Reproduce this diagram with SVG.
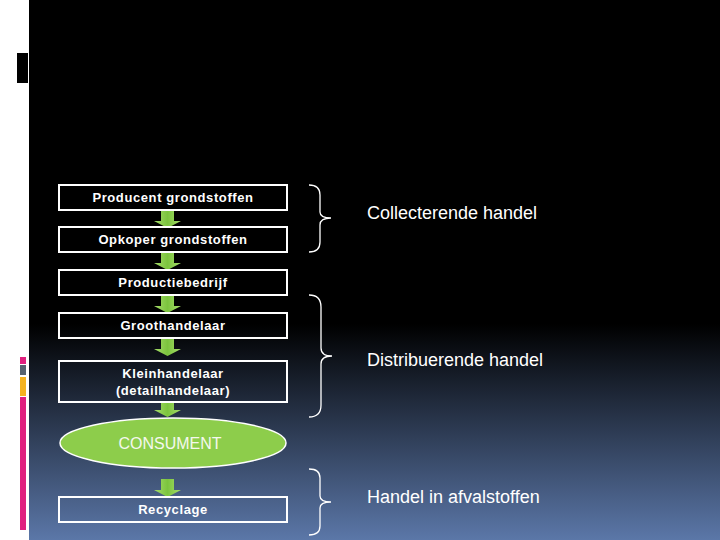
<svg xmlns="http://www.w3.org/2000/svg" width="720" height="540" viewBox="0 0 720 540">
<defs>
<linearGradient id="bg" x1="0" y1="0" x2="0" y2="540" gradientUnits="userSpaceOnUse">
<stop offset="0" stop-color="#000"/>
<stop offset="0.6" stop-color="#000"/>
<stop offset="1" stop-color="#5b77a8"/>
</linearGradient>
<linearGradient id="ag" x1="0" y1="0" x2="1" y2="0">
<stop offset="0" stop-color="#a6dd6a"/>
<stop offset="0.5" stop-color="#7cc43e"/>
<stop offset="1" stop-color="#a6dd6a"/>
</linearGradient>
<style>
.box{fill:none;stroke:#fff;stroke-width:2}
.bt{fill:#fff;font-family:"Liberation Sans",Arial,sans-serif;font-weight:bold;font-size:13px;letter-spacing:0.6px;text-anchor:middle}
.lt{fill:#fff;font-family:"Liberation Sans",Arial,sans-serif;font-size:18px}
.br{fill:none;stroke:#fff;stroke-width:1.3}
.ar{fill:url(#ag)}
</style>
</defs>
<rect x="0" y="0" width="720" height="540" fill="url(#bg)"/>
<rect x="0" y="0" width="29" height="540" fill="#fff"/>
<rect x="17" y="53" width="11" height="30" fill="#000"/>
<rect x="20" y="357" width="6" height="7" fill="#e0207f"/>
<rect x="20" y="365" width="6" height="10" fill="#566270"/>
<rect x="20" y="377" width="6" height="19" fill="#f5b320"/>
<rect x="20" y="397" width="6" height="133" fill="#e0207f"/>

<g id="connectors">
<path class="ar" d="M161,210 H174 V221 H181 L167.5,228 L154,221 H161 Z"/>
<path class="ar" d="M161,252 H174 V263 H181 L167.5,270 L154,263 H161 Z"/>
<path class="ar" d="M161,295 H174 V306 H181 L167.5,313 L154,306 H161 Z"/>
<path class="ar" d="M161,338 H174 V349 H181 L167.5,356 L154,349 H161 Z"/>
<path class="ar" d="M161,402 H174 V410 H181 L167.5,417 L154,410 H161 Z"/>
<path class="ar" d="M161,479 H174 V490 H181 L167.5,497 L154,490 H161 Z"/>
</g>

<g id="n1"><rect class="box" x="59" y="185" width="228" height="25"/><text class="bt" x="173" y="202">Producent grondstoffen</text></g>
<g id="n2"><rect class="box" x="59" y="227" width="228" height="25"/><text class="bt" x="173" y="244">Opkoper grondstoffen</text></g>
<g id="n3"><rect class="box" x="59" y="270" width="228" height="25"/><text class="bt" x="173" y="287">Productiebedrijf</text></g>
<g id="n4"><rect class="box" x="59" y="313" width="228" height="25"/><text class="bt" x="173" y="330">Groothandelaar</text></g>
<g id="n5"><rect class="box" x="59" y="361" width="228" height="41"/><text class="bt" x="173" y="378">Kleinhandelaar</text><text class="bt" x="173" y="395">(detailhandelaar)</text></g>
<g id="n6"><ellipse cx="173" cy="443" rx="113" ry="25" fill="#8dcd4b" stroke="#fff" stroke-width="1.5"/><text x="170" y="449" fill="#f4f8ee" font-family="'Liberation Sans',Arial,sans-serif" font-size="16" text-anchor="middle">CONSUMENT</text></g>
<g id="n7"><rect class="box" x="59" y="497" width="228" height="25"/><text class="bt" x="173" y="514">Recyclage</text></g>

<g id="b1"><path class="br" d="M309,185 Q320,185 320,195 V212 Q320,218 331,218 Q320,218 320,225 V242 Q320,252 309,252"/><text class="lt" x="367" y="219">Collecterende handel</text></g>
<g id="b2"><path class="br" d="M309,295 Q321,295 321,307 V348 Q321,356 332,356 Q321,356 321,364 V405 Q321,417 309,417"/><text class="lt" x="367" y="366">Distribuerende handel</text></g>
<g id="b3"><path class="br" d="M309,469 Q320,469 320,478 V496 Q320,502 331,502 Q320,502 320,508 V526 Q320,535 309,535"/><text class="lt" x="367" y="503">Handel in afvalstoffen</text></g>
</svg>
